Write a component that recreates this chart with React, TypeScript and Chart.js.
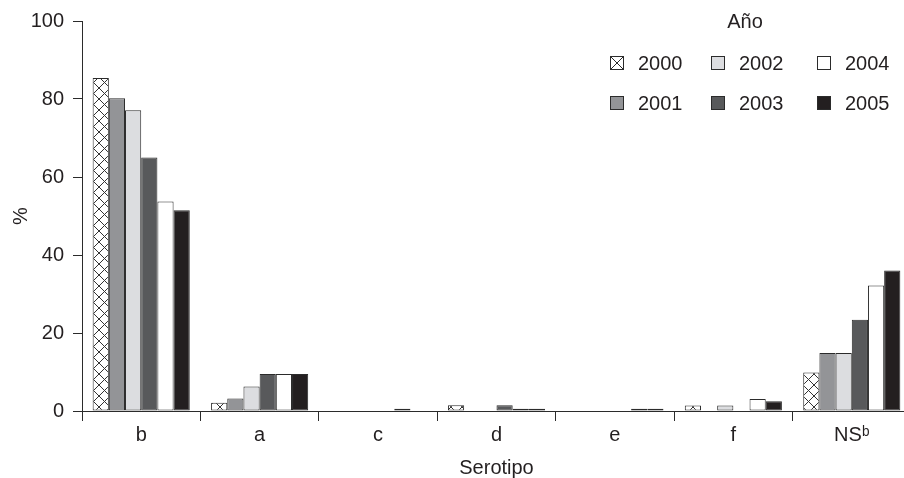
import { useEffect, useRef } from 'react';
import { Chart, registerables } from 'chart.js';

Chart.register(...registerables);

const categories = ['b', 'a', 'c', 'd', 'e', 'f', 'NSᵇ'];
const years = ['2000', '2001', '2002', '2003', '2004', '2005'];
const v2000 = [85.4, 2.1, 0, 1.5, 0, 1.4, 9.9];
const v2001 = [80.2, 3.2, 0, 0, 0, 0, 14.9];
const v2002 = [77.1, 6.3, 0, 0, 0, 1.4, 14.9];
const v2003 = [65.0, 9.5, 0, 1.5, 0, 0, 23.4];
const v2004 = [53.7, 9.5, 0.6, 0.6, 0.6, 3.1, 32.2];
const v2005 = [51.5, 9.5, 0, 0.6, 0.6, 2.5, 36.0];
const seriesValues = [v2000, v2001, v2002, v2003, v2004, v2005];
const yTickValues = [0, 20, 40, 60, 80, 100];
const legendTitle = 'Año';
const xTitle = 'Serotipo';
const yTitle = '%';

const FONT = "'Liberation Sans Narrow', 'Arial Narrow', 'Liberation Sans', Arial, sans-serif";
const INK = '#231f20';
const LINE = '#2b2b2b';
const fills = ['hatch', '#939497', '#dcdde0', '#58595b', '#ffffff', '#231f20'];

function makeHatch(): CanvasPattern | string {
  const c = document.createElement('canvas');
  const s = 11;
  c.width = s;
  c.height = s;
  const g = c.getContext('2d');
  if (!g) return '#fff';
  g.fillStyle = '#fff';
  g.fillRect(0, 0, s, s);
  g.strokeStyle = '#333';
  g.lineWidth = 1;
  g.beginPath();
  g.moveTo(0, 0);
  g.lineTo(s, s);
  g.moveTo(s, 0);
  g.lineTo(0, s);
  g.stroke();
  const p = g.createPattern(c, 'repeat');
  return p || '#fff';
}

const legendPlugin = {
  id: 'gridLegend',
  afterDraw(chart: any) {
    const ctx = chart.ctx as CanvasRenderingContext2D;
    ctx.save();
    ctx.font = `20px ${FONT}`;
    ctx.fillStyle = INK;
    ctx.textBaseline = 'middle';
    ctx.textAlign = 'center';
    ctx.fillText(legendTitle, 745, 22);
    const colX = [610, 711, 817];
    const rowY = [56, 96];
    const box = 14;
    years.forEach((yr, i) => {
      const col = Math.floor(i / 2);
      const row = i % 2;
      const x = colX[col];
      const y = rowY[row];
      const f = fills[i];
      ctx.fillStyle = f === 'hatch' ? '#ffffff' : f;
      ctx.fillRect(x, y, box, box);
      ctx.strokeStyle = LINE;
      ctx.lineWidth = 1;
      ctx.strokeRect(x + 0.5, y + 0.5, box - 1, box - 1);
      if (f === 'hatch') {
        ctx.beginPath();
        ctx.moveTo(x + 0.5, y + 0.5);
        ctx.lineTo(x + box - 0.5, y + box - 0.5);
        ctx.moveTo(x + box - 0.5, y + 0.5);
        ctx.lineTo(x + 0.5, y + box - 0.5);
        ctx.stroke();
      }
      ctx.fillStyle = INK;
      ctx.textAlign = 'left';
      ctx.fillText(yr, x + 28, y + box / 2 + 1);
    });
    ctx.restore();
  },
};

export default function App() {
  const ref = useRef<HTMLCanvasElement | null>(null);

  useEffect(() => {
    const canvas = ref.current;
    if (!canvas) return;
    const hatch = makeHatch();
    const chart = new Chart(canvas, {
      type: 'bar',
      data: {
        labels: categories,
        datasets: years.map((yr, i) => ({
          label: yr,
          data: seriesValues[i],
          backgroundColor: fills[i] === 'hatch' ? (hatch as any) : fills[i],
          borderColor: LINE,
          borderWidth: 1,
          borderSkipped: false,
          categoryPercentage: 0.82,
          barPercentage: 1.0,
        })),
      },
      options: {
        responsive: false,
        animation: false,
        devicePixelRatio: 1,
        layout: { padding: { left: 0, right: 19, top: 19, bottom: 0 } },
        plugins: {
          legend: { display: false },
          tooltip: { enabled: false },
          title: { display: false },
        },
        scales: {
          x: {
            grid: {
              offset: true,
              drawOnChartArea: false,
              drawTicks: true,
              tickLength: 10,
              color: LINE,
              lineWidth: 1,
            },
            border: { display: true, color: LINE, width: 1 },
            ticks: {
              color: INK,
              font: { family: FONT, size: 20 },
              padding: 2,
              maxRotation: 0,
            },
            title: {
              display: true,
              text: xTitle,
              color: INK,
              font: { family: FONT, size: 20, lineHeight: 1 },
              padding: 0,
            },
            afterFit: (scale: any) => {
              scale.height = 67;
            },
          },
          y: {
            min: 0,
            max: 100,
            afterBuildTicks: (scale: any) => {
              scale.ticks = yTickValues.map((v) => ({ value: v }));
            },
            grid: {
              drawOnChartArea: false,
              drawTicks: true,
              tickLength: 9,
              color: LINE,
              lineWidth: 1,
            },
            border: { display: true, color: LINE, width: 1 },
            ticks: {
              color: INK,
              font: { family: FONT, size: 20 },
              padding: 9,
            },
            title: {
              display: true,
              text: yTitle,
              color: INK,
              font: { family: FONT, size: 20, lineHeight: 1.2 },
              padding: { top: 9, bottom: 0 },
            },
            afterFit: (scale: any) => {
              scale.width = 82;
            },
          },
        },
      },
      plugins: [legendPlugin],
    });
    return () => chart.destroy();
  }, []);

  return (
    <div
      style={{
        position: 'fixed',
        left: 0,
        top: 0,
        width: 904,
        height: 478,
        overflow: 'hidden',
        background: '#ffffff',
      }}
    >
      <canvas ref={ref} width={930} height={478} style={{ display: 'block', width: 930, height: 478 }} />
    </div>
  );
}
